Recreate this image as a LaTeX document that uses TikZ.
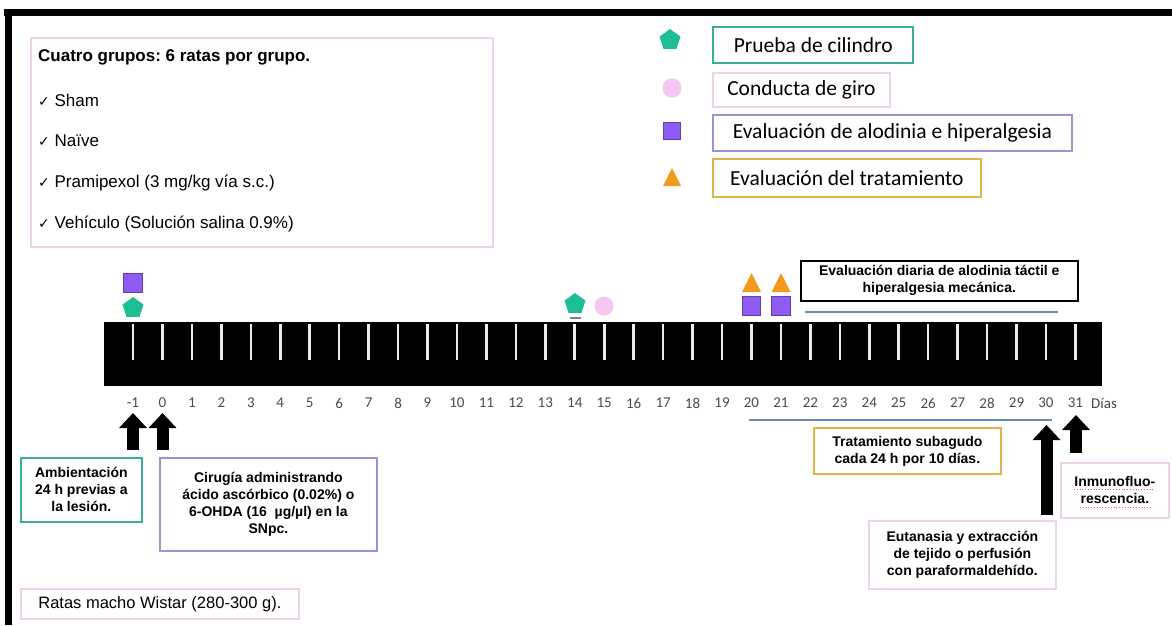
\documentclass[tikz,border=0pt]{standalone}
\usepackage{fontspec}
\setmainfont{Liberation Sans}
\newfontfamily\calfont{Carlito}
\newfontfamily\djfont{DejaVu Sans}
\usetikzlibrary{shapes.geometric,arrows.meta}
\frenchspacing
\definecolor{tealb}{HTML}{3AAE98}
\definecolor{tealf}{HTML}{1DBF92}
\definecolor{pinkb}{HTML}{EBD3EC}
\definecolor{pinkf}{HTML}{F5C8F2}
\definecolor{purpb}{HTML}{A58ED4}
\definecolor{purpf}{HTML}{8E5CF2}
\definecolor{goldb}{HTML}{E2B548}
\definecolor{orangef}{HTML}{F39A1E}
\definecolor{bluel}{HTML}{6A8BB5}
\definecolor{daygray}{HTML}{4A4A4A}
\newcommand\chk{{\djfont\fontsize{14}{16}\selectfont ✓}}
\begin{document}
\begin{tikzpicture}[x=1pt,y=-1pt,
  frame/.style={draw, line width=1.8pt, inner sep=0pt, anchor=north west},
  legbox/.style={frame, draw=#1, font=\calfont\fontsize{21.5}{24}\selectfont},
  txtbox/.style={frame, draw=#1, align=center, font=\bfseries\fontsize{14}{17}\selectfont},
  listtxt/.style={anchor=west, inner sep=0pt, font=\fontsize{17}{20}\selectfont},
  daylbl/.style={inner sep=0pt, text=daygray, font=\calfont\fontsize{15}{18}\selectfont},
  tickline/.style={draw=white!92!black, line width=2.6pt},
  pent/.style={regular polygon, regular polygon sides=5, fill=tealf, inner sep=0pt, minimum size=22pt},
  sq/.style={rectangle, fill=purpf, draw=purpf!70!black, line width=0.6pt, inner sep=0pt, minimum size=#1},
  dot/.style={circle, fill=pinkf, inner sep=0pt, minimum size=#1},
  blockarrow/.style={line width=12pt, -{Triangle[width=27pt,length=15pt]}, black},
  blueline/.style={draw=bluel, line width=2pt}
]
\useasboundingbox (0,0) rectangle (1172,625);
% outer black frame (top and left)
\fill[black] (4,9) rectangle (1172,16);
\fill[black] (5,9) rectangle (12,625);

% groups box
\node[frame, draw=pinkb, minimum width=462pt, minimum height=209pt] (groups) at (30,37) {};
\node[listtxt, font=\bfseries\fontsize{17}{20}\selectfont] (g0) at (38,57) {Cuatro grupos: 6 ratas por grupo.};
\node[listtxt] (g1) at (38,100) {\chk{} Sham};
\node[listtxt] (g2) at (38,141) {\chk{} Naïve};
\node[listtxt] (g3) at (38,183) {\chk{} Pramipexol (3 mg/kg vía s.c.)};
\node[listtxt] (g4) at (38,224) {\chk{} Vehículo (Solución salina 0.9\%)};

% legend
\node[pent] (lp) at (670,40) {};
\node[legbox=tealb, line width=2.4pt, minimum width=200pt, minimum height=36pt] (l1) at (712,26) {Prueba de cilindro};
\node[dot=19pt] (lc) at (672,88) {};
\node[legbox=pinkb, minimum width=177pt, minimum height=34pt] (l2) at (712,72) {Conducta de giro};
\node[sq=17pt] (ls) at (672,131) {};
\node[legbox=purpb, minimum width=359pt, minimum height=36pt] (l3) at (712,114) {Evaluación de alodinia e hiperalgesia};
\fill[orangef] (663,186) -- (681,186) -- (672,168) -- cycle;
\node[legbox=goldb, minimum width=268pt, minimum height=38pt] (l4) at (712,158) {Evaluación del tratamiento};

% timeline bar
\fill[black] (104,322) rectangle (1102,386);
\foreach \d in {-1,...,31}{
  \pgfmathsetmacro\xx{133+29.45*(\d+1)}
  \draw[tickline] (\xx,324) -- (\xx,360);
  \node[daylbl] (d\d) at (\xx,403) {\d};
}
\node[daylbl, anchor=west] (dias) at (1091,403) {Días};

% markers above bar
\node[sq=19pt] (m1s) at (133,282.5) {};
\node[pent] (m1p) at (133,308) {};
\node[pent] (m14) at (575,304) {};
\draw[gray, line width=1.2pt] (570,318) -- (581,318);
\node[dot=19pt] (m15) at (604,306) {};
\foreach \xx in {751.5,781}{
  \fill[orangef] (\xx-9.5,292) -- (\xx+9.5,292) -- (\xx,273) -- cycle;
  \node[sq=18.5pt] at (\xx,306) {};
}

% daily evaluation box and lines
\node[txtbox=black, line width=1.6pt, minimum width=277pt, minimum height=40pt] (diaria) at (800,260) {Evaluación diaria de alodinia táctil e\\hiperalgesia mecánica.};
\coordinate (bl1a) at (805,312);
\coordinate (bl1b) at (1058,312);
\draw[blueline] (bl1a) -- (bl1b);
\coordinate (bl2a) at (749,420);
\coordinate (bl2b) at (1052,420);
\draw[blueline] (bl2a) -- (bl2b);

% bottom boxes
\node[txtbox=tealb, minimum width=121pt, minimum height=64pt] (amb) at (20,457) {Ambientación\\24 h previas a\\la lesión.};
\node[txtbox=purpb, minimum width=217pt, minimum height=93pt] (cir) at (159,457) {Cirugía administrando\\ácido ascórbico (0.02\%) o\\6-OHDA (16~ µg/µl) en la\\SNpc.};
\node[frame, draw=pinkb, minimum width=278pt, minimum height=30pt, font=\fontsize{16.5}{19}\selectfont] (ratas) at (20,588) {Ratas macho Wistar (280-300 g).};
\node[txtbox=goldb, minimum width=187pt, minimum height=46pt] (trat) at (813,427) {Tratamiento subagudo\\cada 24 h por 10 días.};
\node[txtbox=pinkb, minimum width=187pt, minimum height=68pt] (euta) at (868,520) {Eutanasia y extracción\\de tejido o perfusión\\con paraformaldehído.};
\node[txtbox=pinkb, minimum width=108pt, minimum height=55pt] (inmu) at (1060,462) {Inmunofluo-\\rescencia.};
\draw[red!70, line width=0.8pt, dotted] (1074,489) -- (1155,489);
\draw[red!70, line width=0.8pt, dotted] (1080,507) -- (1151,507);

% block arrows
\coordinate (a1s) at (133,450); \coordinate (a1t) at (133,413);
\coordinate (a2s) at (162.5,450); \coordinate (a2t) at (162.5,413);
\coordinate (a3s) at (1046.5,515); \coordinate (a3t) at (1046.5,425);
\coordinate (a4s) at (1076,453); \coordinate (a4t) at (1076,415);
\draw[blockarrow] (a1s) -- (a1t);
\draw[blockarrow] (a2s) -- (a2t);
\draw[blockarrow] (a3s) -- (a3t);
\draw[blockarrow] (a4s) -- (a4t);
\end{tikzpicture}
\end{document}
